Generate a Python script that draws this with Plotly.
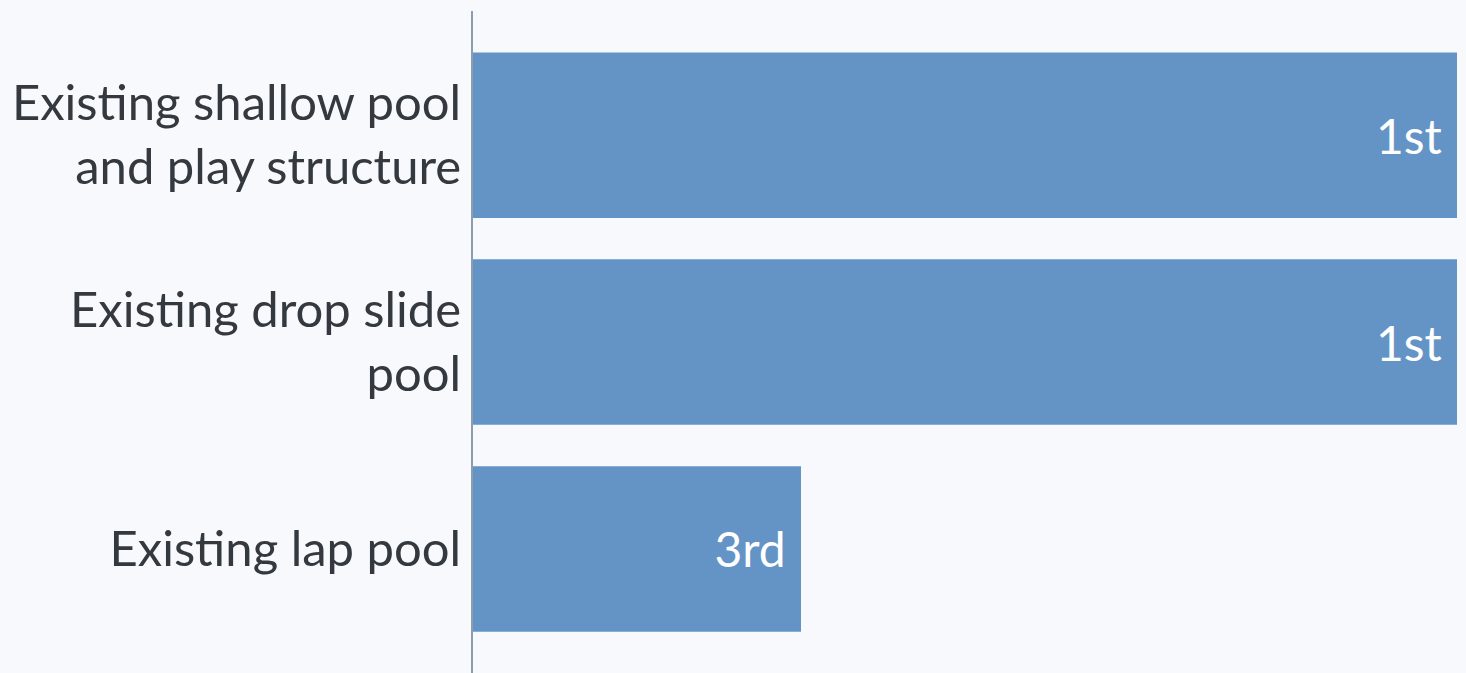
import plotly.graph_objects as go

categories = [
    "Existing shallow pool<br>and play structure",
    "Existing drop slide<br>pool",
    "Existing lap pool",
]
scores = [3, 3, 1]
rank_labels = ["1st", "1st", "3rd"]

BG = "#f7f9fc"
BAR = "#6494c6"
TEXT = "#33393f"
FONT = "Lato"

fig = go.Figure(
    go.Bar(
        x=scores,
        y=categories,
        orientation="h",
        marker=dict(color=BAR, line=dict(width=0)),
        text=[f"{t}\u00a0" for t in rank_labels],
        textposition="inside",
        insidetextanchor="end",
        textfont=dict(color="white", size=48, family=FONT),
        hoverinfo="skip",
    )
)

fig.update_layout(
    width=1466,
    height=673,
    paper_bgcolor=BG,
    plot_bgcolor=BG,
    margin=dict(l=473, r=9, t=11, b=0),
    bargap=0.2,
    showlegend=False,
    font=dict(family=FONT, size=49, color=TEXT),
)
fig.update_xaxes(range=[0, 3], visible=False, showgrid=False, zeroline=False)
fig.update_yaxes(
    range=[2.6, -0.6],
    showgrid=False,
    zeroline=False,
    showline=True,
    linecolor="#8d9db0",
    linewidth=2,
    ticks="",
    ticklabelstandoff=0,
    tickfont=dict(size=49, color=TEXT, family=FONT),
)

# page body has an 8px default margin; drop it so the figure fills the window
fig.write_html(
    "out.html",
    config={"displayModeBar": False},
    post_script="document.body.style.margin='0';document.body.style.background='%s';" % BG,
)
